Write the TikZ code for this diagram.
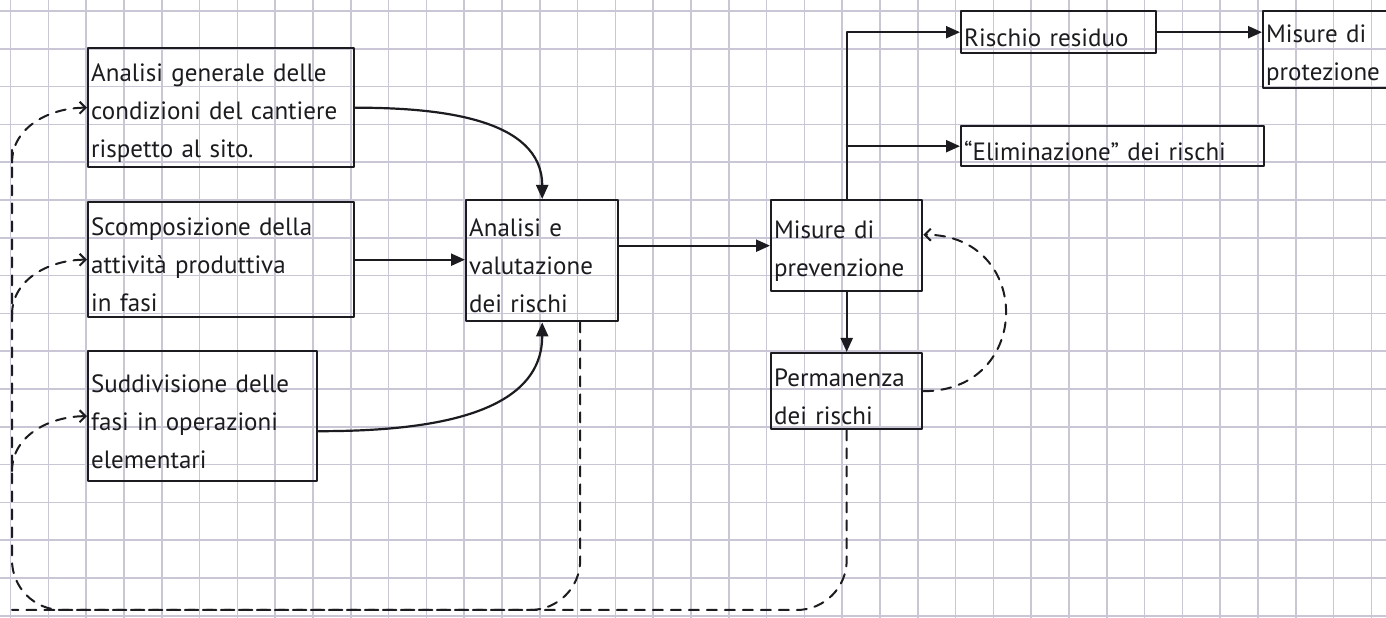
\documentclass[tikz,border=0pt]{standalone}
\usepackage{fontspec}
\setmainfont{PT Sans}
\usetikzlibrary{arrows.meta,calc}
\definecolor{ink}{RGB}{28,28,32}
\definecolor{gridc}{RGB}{202,198,214}
\newcommand{\hand}{\fontsize{25}{38}\selectfont}
\tikzset{
  box/.style={draw=ink,line width=2.4pt,anchor=north west,align=left,inner xsep=3pt,inner ysep=0pt,font=\hand,text=ink,
    execute at begin node={\rule{0pt}{28pt}}},
  arr/.style={draw=ink,line width=2.2pt,-{Triangle[length=14pt,width=12pt]}},
  fb/.style={draw=ink,line width=2pt,dash pattern=on 10pt off 8pt,-{Straight Barb[length=6pt,width=12pt]}},
  paper/.style={draw=gridc,line width=1.6pt}
}
\begin{document}
\begin{tikzpicture}[line cap=round,line join=round,x=1pt,y=1pt]
\clip(0,0) rectangle (1386,618);
\fill[white] (0,0) rectangle (1386,618);
\begin{scope}[shift={(10.5,2.2)}]
\draw[paper,step=37.8] (-10.5,-2.2) grid (1376,616);
\end{scope}
\node[box,text width=260pt,minimum height=119pt] (gen) at (87,571) {Analisi generale delle\\condizioni del cantiere\\rispetto al sito.};
\node[box,text width=260pt,minimum height=115pt] (scomp) at (87,417) {Scomposizione della\\attività produttiva\\in fasi};
\node[box,text width=223pt,minimum height=130pt] (sudd) at (87,268) {Suddivisione delle\\fasi in operazioni\\elementari};
\node[box,text width=146pt,minimum height=121pt] (valut) at (465,419) {Analisi e\\valutazione\\dei rischi};
\node[box,text width=145pt,minimum height=91pt] (prev) at (770,419) {Misure di\\prevenzione};
\node[box,text width=145pt,minimum height=76pt] (perm) at (770,266) {Permanenza\\dei rischi};
\node[box,text width=189pt,minimum height=42pt] (resid) at (960,608) {Rischio residuo};
\node[box,text width=154pt,minimum height=77pt] (prot) at (1262,608) {Misure di\\protezione};
\node[box,text width=297pt,minimum height=40pt] (elim) at (960,493) {“Eliminazione” dei rischi};
\draw[arr] (gen.east) to[out=0,in=90] (valut.north);
\draw[arr] (scomp.east) -- (valut.west |- scomp.east);
\draw[arr] ([yshift=-15pt]sudd.east) to[out=0,in=-90] (valut.south);
\draw[arr] (valut.east |- prev.west) -- (prev.west);
\draw[arr] (prev.south) -- (perm.north);
\draw[arr] (prev.north) |- (resid.west);
\draw[arr] (prev.north |- elim.west) -- (elim.west);
\draw[arr] (resid.east) -- (prot.west |- resid.east);
% ritorno tratteggiato
\coordinate (loopbase) at (12,8);
\coordinate (looptop) at (12,468);
\draw[fb,-,rounded corners=50pt] (perm.south) |- (loopbase) -- (looptop);
\draw[fb,-,rounded corners=50pt] ([xshift=38pt]valut.south) |- (loopbase);
\draw[fb] ($(gen.west)+(-75,-55)$) to[out=90,in=180] (gen.west);
\draw[fb] ($(scomp.west)+(-75,-55)$) to[out=90,in=180] (scomp.west);
\draw[fb] ($(sudd.west)+(-75,-55)$) to[out=90,in=180] (sudd.west);
\draw[fb] (perm.east) to[out=0,in=0,looseness=1.8] ([yshift=11pt]prev.east);
\end{tikzpicture}
\end{document}
